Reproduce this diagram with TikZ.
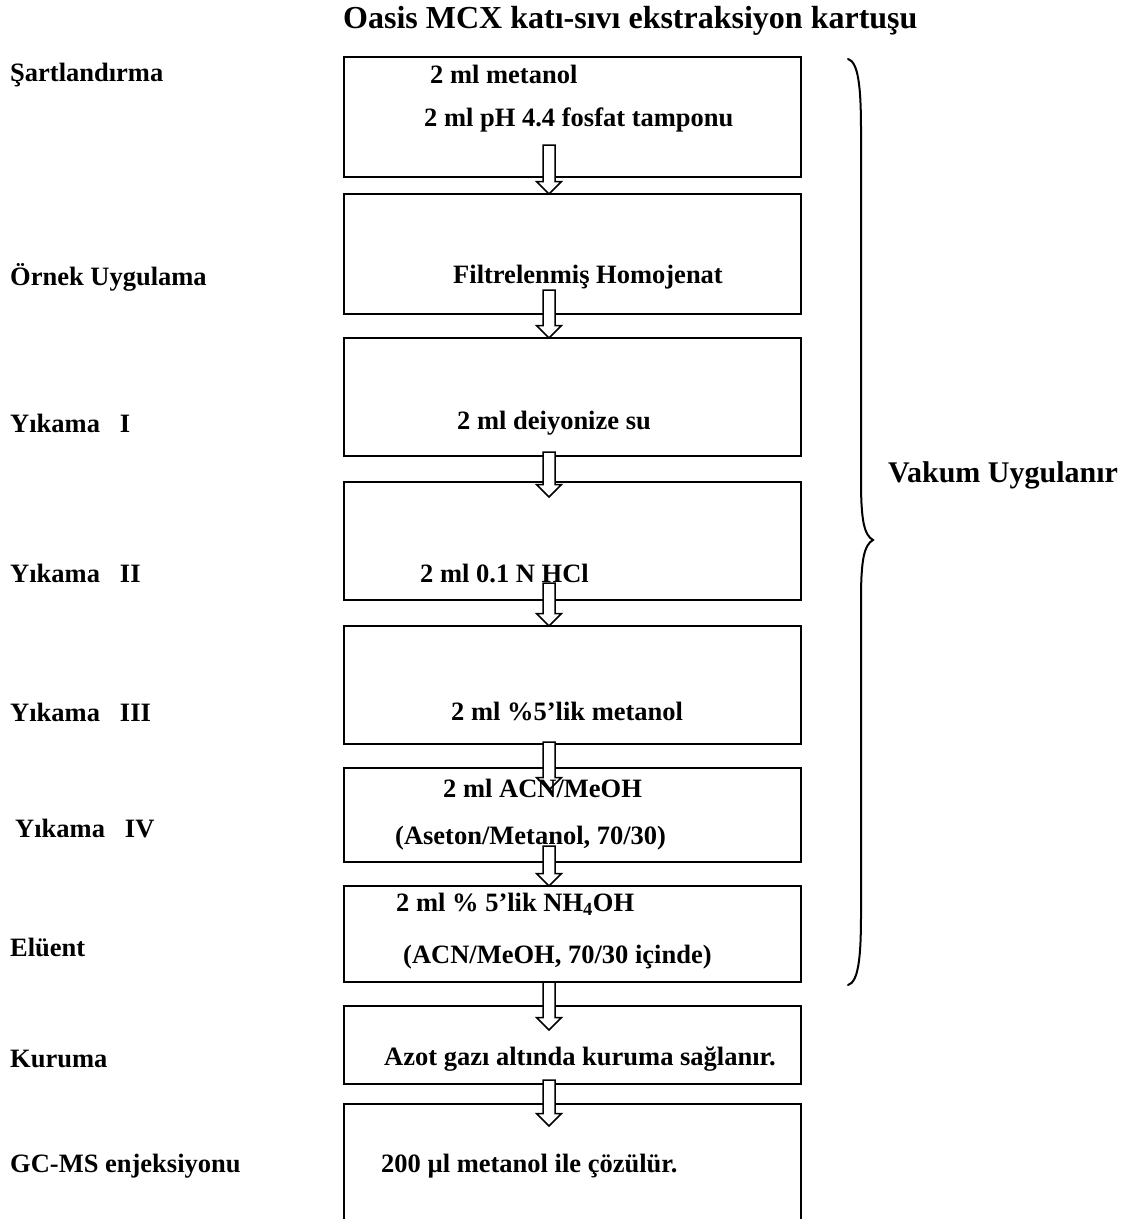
\documentclass[tikz,border=0pt]{standalone}
\usepackage{fontspec}
\setmainfont{Liberation Serif}
\usetikzlibrary{calc}
\begin{document}
\begin{tikzpicture}[x=1pt,y=-1pt,
  txt/.style={anchor=west,inner sep=0pt,font=\fontsize{26.5}{30}\selectfont\bfseries},
  bigtxt/.style={anchor=west,inner sep=0pt,font=\fontsize{32}{36}\selectfont\bfseries},
  stepbox/.style={draw,line width=2pt,anchor=north west,inner sep=0pt,
    minimum width=457pt,outer sep=0pt},
  arrowline/.style={draw,fill=white,line width=1.5pt,line join=miter},
  brace/.style={line width=2pt,line cap=round}]
\useasboundingbox (0,0) rectangle (1131,1219);

% hollow block arrow from a start coordinate down to a tip coordinate
\newcommand{\hollowarrow}[2]{%
  \draw[arrowline] ($(#1)+(-6,0)$) -- ($(#2)+(-6,-12.5)$) -- ($(#2)+(-12.5,-12.5)$)
    -- (#2) -- ($(#2)+(12.5,-12.5)$) -- ($(#2)+(6,-12.5)$) -- ($(#1)+(6,0)$) -- cycle;}

% title
\node[bigtxt] (title) at (343,21) {Oasis MCX katı-sıvı ekstraksiyon kartuşu};

% step boxes
\node[stepbox,minimum height=120pt] (b1) at (344,57) {};
\node[stepbox,minimum height=120pt] (b2) at (344,194) {};
\node[stepbox,minimum height=118pt] (b3) at (344,338) {};
\node[stepbox,minimum height=118pt] (b4) at (344,482) {};
\node[stepbox,minimum height=118pt] (b5) at (344,626) {};
\node[stepbox,minimum height=94pt]  (b6) at (344,768) {};
\node[stepbox,minimum height=96pt]  (b7) at (344,886) {};
\node[stepbox,minimum height=78pt]  (b8) at (344,1006) {};
\node[stepbox,minimum height=140pt] (b9) at (344,1104) {};

% arrows between the steps
\coordinate (s1) at (549,145);  \coordinate (e1) at (549,194);
\coordinate (s2) at (549,290);  \coordinate (e2) at (549,338);
\coordinate (s3) at (549,452);  \coordinate (e3) at (549,497);
\coordinate (s4) at (549,583);  \coordinate (e4) at (549,626);
\coordinate (s5) at (549,742);  \coordinate (e5) at (549,790);
\coordinate (s6) at (549,846);  \coordinate (e6) at (549,886);
\coordinate (s7) at (549,982);  \coordinate (e7) at (549,1030);
\coordinate (s8) at (549,1080); \coordinate (e8) at (549,1126);
\hollowarrow{s1}{e1}
\hollowarrow{s2}{e2}
\hollowarrow{s3}{e3}
\hollowarrow{s4}{e4}
\hollowarrow{s5}{e5}
\hollowarrow{s6}{e6}
\hollowarrow{s7}{e7}
\hollowarrow{s8}{e8}

% box contents
\node[txt] (t1a) at (430,74)  {2 ml metanol};
\node[txt] (t1b) at (424,120) {2 ml pH 4.4 fosfat tamponu};
\node[txt] (t2)  at (453,277) {Filtrelenmiş Homojenat};
\node[txt] (t3)  at (457,423) {2 ml deiyonize su};
\node[txt] (t4)  at (420,573) {2 ml 0.1 N HCl};
\node[txt] (t5)  at (451,711) {2 ml \%5’lik metanol};
\node[txt] (t6a) at (443,788) {2 ml ACN/MeOH};
\node[txt] (t6b) at (395,838) {(Aseton/Metanol, 70/30)};
\node[txt] (t7a) at (396,904) {2 ml \% 5’lik NH\textsubscript{4}OH};
\node[txt] (t7b) at (403,957) {(ACN/MeOH, 70/30 içinde)};
\node[txt] (t8)  at (384,1059) {Azot gazı altında kuruma sağlanır.};
\node[txt] (t9)  at (381,1166) {200 µl metanol ile çözülür.};

% step names
\node[txt] (l1) at (10,75)   {Şartlandırma};
\node[txt] (l2) at (10,277)  {Örnek Uygulama};
\node[txt] (l3) at (10,423)  {Yıkama\hspace{20pt}I};
\node[txt] (l4) at (10,573)  {Yıkama\hspace{20pt}II};
\node[txt] (l5) at (10,712)  {Yıkama\hspace{20pt}III};
\node[txt] (l6) at (15,828)  {Yıkama\hspace{20pt}IV};
\node[txt] (l7) at (10,947)  {Elüent};
\node[txt] (l8) at (10,1059) {Kuruma};
\node[txt] (l9) at (10,1166) {GC-MS enjeksiyonu};

% brace over the vacuum steps
\coordinate (brtop) at (848,59);
\coordinate (brtip) at (873,540);
\coordinate (brbot) at (848,985);
\draw[brace] (brtop) .. controls (858,62) and (861,85) .. (861,130)
  -- (861,480) .. controls (861,520) and (864,535) .. (brtip)
  .. controls (864,545) and (861,560) .. (861,600)
  -- (861,915) .. controls (861,960) and (858,982) .. (brbot);
\node[bigtxt,font=\fontsize{30}{34}\selectfont\bfseries] (vac) at (888,475) {Vakum Uygulanır};
\end{tikzpicture}
\end{document}
